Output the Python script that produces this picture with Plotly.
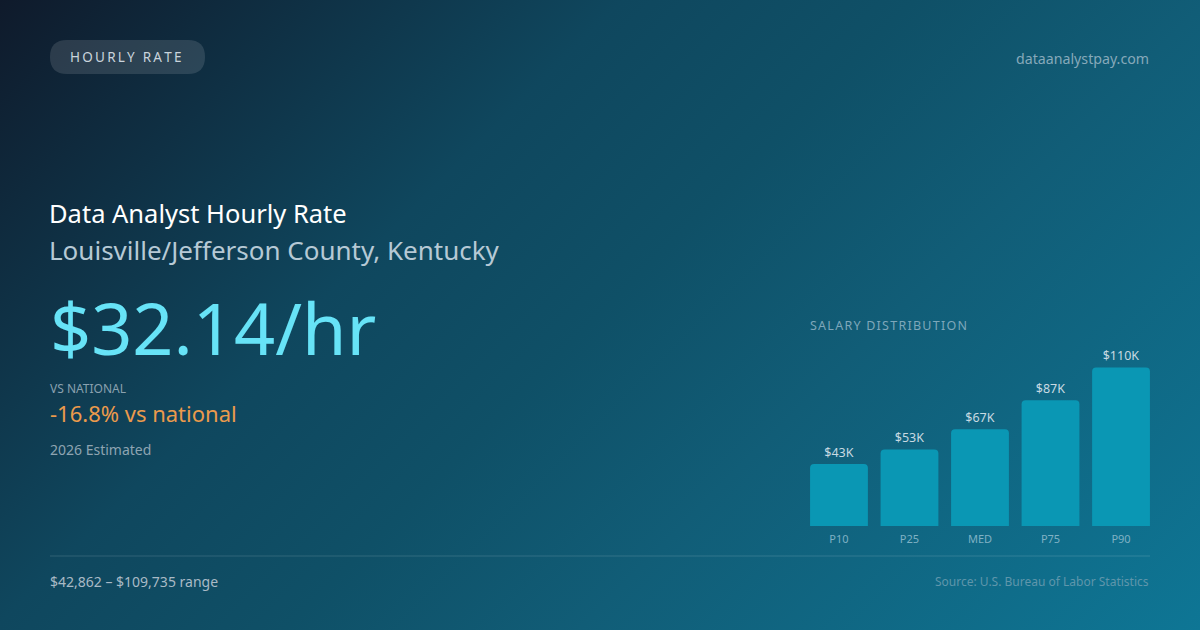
import base64
import plotly.graph_objects as go

# ---------------- data ----------------
categories = ["P10", "P25", "MED", "P75", "P90"]
salary_k = [42.862, 53.0, 67.0, 87.0, 109.735]
bar_labels = ["$43K", "$53K", "$67K", "$87K", "$110K"]

W, H = 1200, 630
FONT = "Noto Sans"

def px_x(x):
    return x / W

def px_y(y):
    return 1 - y / H

def spaced(s, sep):
    return sep.join(list(s))

# ---------------- background gradient (SVG data URI) ----------------
svg = f'''<svg xmlns="http://www.w3.org/2000/svg" width="{W}" height="{H}" viewBox="0 0 {W} {H}">
<defs>
<linearGradient id="g" gradientUnits="userSpaceOnUse" x1="142.5" y1="-142.5" x2="1057.5" y2="772.5">
<stop offset="0" stop-color="#0f1a2b"/>
<stop offset="0.34" stop-color="#0f475e"/>
<stop offset="0.5" stop-color="#0f5067"/>
<stop offset="0.66" stop-color="#115d77"/>
<stop offset="1" stop-color="#0e7695"/>
</linearGradient>
</defs>
<rect width="{W}" height="{H}" fill="url(#g)"/>
</svg>'''
bg_uri = "data:image/svg+xml;base64," + base64.b64encode(svg.encode()).decode()

fig = go.Figure()
fig.add_trace(go.Bar(
    x=categories,
    y=salary_k,
    text=bar_labels,
    textposition="outside",
    textfont=dict(family=FONT, size=12.5, color="#c8dae2"),
    marker=dict(color="#0a97b4", line=dict(width=0)),
    width=0.82,
    cliponaxis=False,
    hoverinfo="skip",
))

annotations = []

def txt(text, x, y, size, color, xanchor="left"):
    annotations.append(dict(
        text=text, x=px_x(x), y=px_y(y), xref="paper", yref="paper",
        xanchor=xanchor, yanchor="middle", showarrow=False,
        font=dict(family=FONT, size=size, color=color),
    ))

txt(spaced("HOURLY RATE", "\u2009"), 68, 57, 13.5, "#c9d4dc")
txt("dataanalystpay.com", 1151, 58, 14.2, "#86a9ba", xanchor="right")
txt("Data Analyst Hourly Rate", 47, 213, 25.5, "#ffffff")
txt("Louisville/Jefferson County, Kentucky", 47, 250, 26, "#b6c9d5")
txt("$32.14/hr", 48, 327, 72, "#67e3f7")
txt("VS NATIONAL", 48, 388, 12, "#8aa1af")
txt("-16.8% vs national", 48, 413, 22, "#eb9a4c")
txt("2026 Estimated", 48, 449, 14, "#8ea4b2")
txt(spaced("SALARY DISTRIBUTION", "\u200a"), 808, 325, 12.5, "#7ea7ba")
txt("$42,862 – $109,735 range", 48, 581, 14, "#a9bac6")
txt("Source: U.S. Bureau of Labor Statistics", 1151, 581, 12, "#5f96ab", xanchor="right")

shapes = [
    # pill behind the tag
    dict(type="path", xref="paper", yref="paper",
         path=("M {x0},{y0} L {x1},{y0} Q {x2},{y0} {x2},{ym} Q {x2},{y3} {x1},{y3} "
               "L {x0},{y3} Q {xm},{y3} {xm},{ym} Q {xm},{y0} {x0},{y0} Z").format(
             x0=px_x(67), x1=px_x(188), x2=px_x(205), xm=px_x(50),
             y0=px_y(40), y3=px_y(74), ym=px_y(57)),
         fillcolor="rgba(255,255,255,0.12)", line=dict(width=0), layer="below"),
    # divider line
    dict(type="line", xref="paper", yref="paper",
         x0=px_x(50), x1=px_x(1150), y0=px_y(556), y1=px_y(556),
         line=dict(color="rgba(255,255,255,0.14)", width=1)),
]

fig.update_layout(
    width=W, height=H,
    margin=dict(l=0, r=0, t=0, b=0),
    paper_bgcolor="#0f4a62",
    plot_bgcolor="rgba(0,0,0,0)",
    showlegend=False,
    barcornerradius=4,
    images=[dict(source=bg_uri, xref="paper", yref="paper", x=0, y=1,
                 sizex=1, sizey=1, xanchor="left", yanchor="top",
                 sizing="stretch", layer="below")],
    xaxis=dict(domain=[px_x(810), px_x(1150)], range=[-0.411, 4.411],
               showgrid=False, zeroline=False, showline=False, ticks="",
               ticklabelstandoff=5,
               tickfont=dict(family=FONT, size=11, color="#7fb1c4"),
               fixedrange=True),
    yaxis=dict(domain=[px_y(526), px_y(346)], range=[0, 124.6],
               showgrid=False, zeroline=False, showline=False,
               showticklabels=False, fixedrange=True),
    annotations=annotations,
    shapes=shapes,
)

fig.write_html("out.html", config={"displayModeBar": False},
               post_script="document.body.style.margin='0';")
